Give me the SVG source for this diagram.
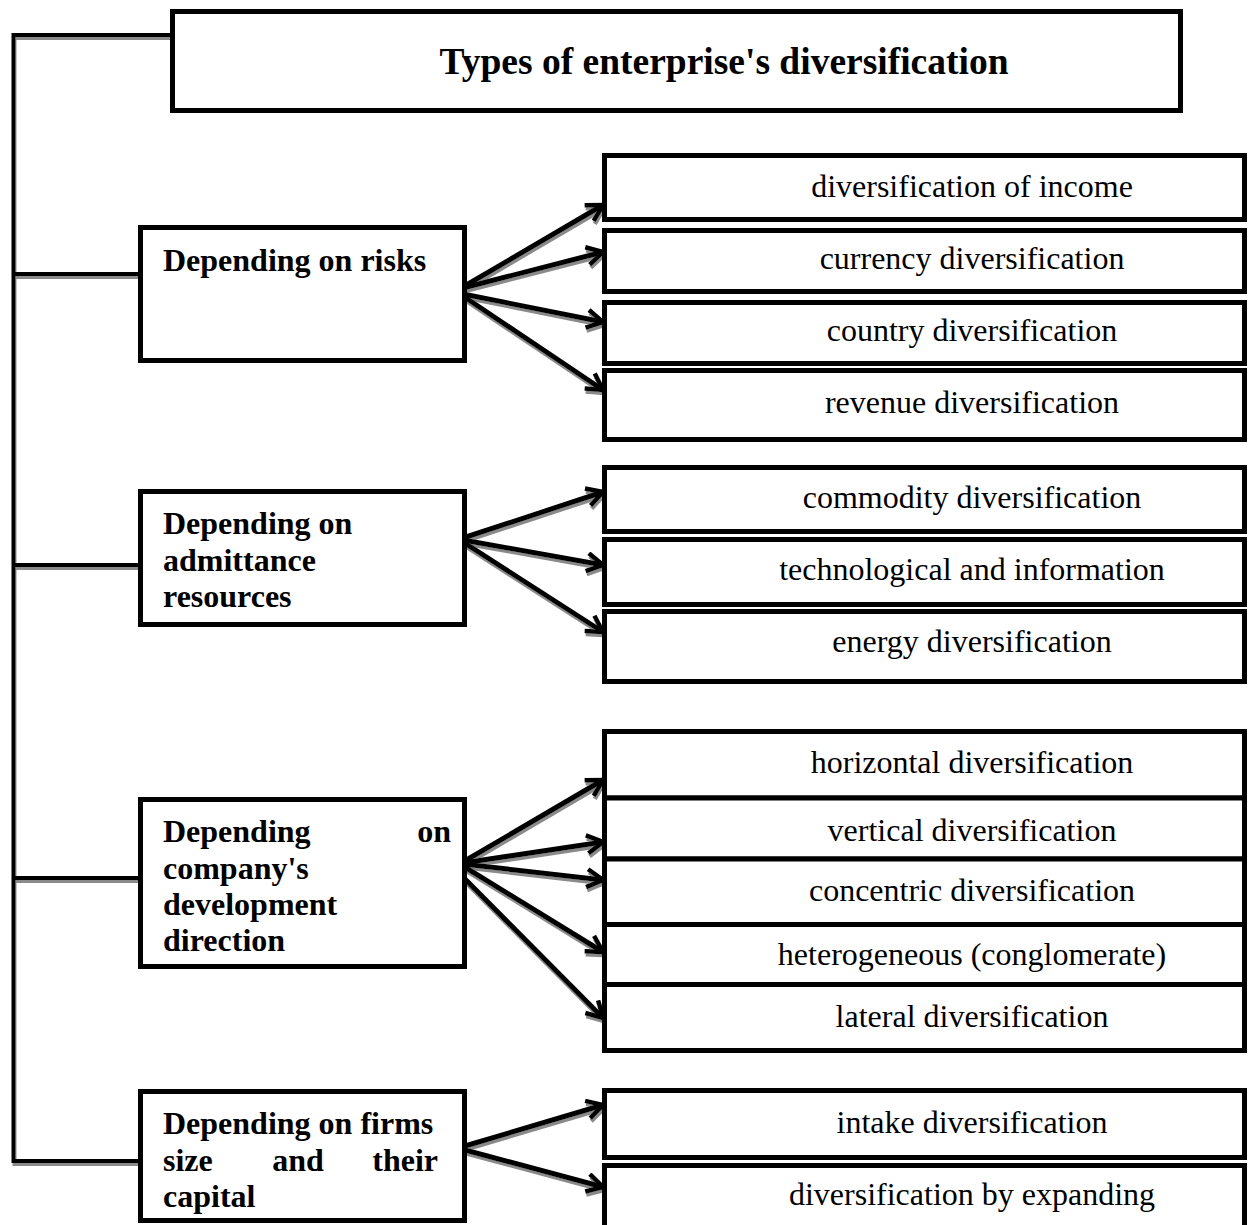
<svg xmlns="http://www.w3.org/2000/svg" width="1251" height="1225" viewBox="0 0 1251 1225">
<style>
.box{fill:#fff;stroke:#000;stroke-width:5}
.t{font-family:"Liberation Serif","Times New Roman",serif;font-size:32px;fill:#000}
.b{font-weight:bold}
.c{text-anchor:middle}
.ln{stroke:#000;stroke-width:4;fill:none}
.ar{stroke:#000;stroke-width:5;fill:none;marker-end:url(#ah)}
</style>
<defs>
<filter id="sh" x="-5%" y="-5%" width="110%" height="110%"><feDropShadow dx="1" dy="3" stdDeviation="0.4" flood-color="#8a8a8a" flood-opacity="1"/></filter>
<marker id="ah" viewBox="0 0 22 22" refX="19" refY="11" markerWidth="22" markerHeight="22" markerUnits="userSpaceOnUse" orient="auto"><path d="M3,2 L19,11 L3,20" fill="none" stroke="#000" stroke-width="4.5" stroke-linejoin="miter"/></marker>
</defs>
<rect width="1251" height="1225" fill="#fff"/>
<g id="connectors" filter="url(#sh)">
<path class="ln" d="M172,35 H13.5 V1161 H140"/>
<path class="ln" d="M13.5,274 H140"/>
<path class="ln" d="M13.5,565 H140"/>
<path class="ln" d="M13.5,878 H140"/>
<path class="ar" d="M463,287 L603,205"/>
<path class="ar" d="M463,288 L603,252"/>
<path class="ar" d="M463,294 L603,322"/>
<path class="ar" d="M463,296 L603,390"/>
<path class="ar" d="M463,538 L603,492"/>
<path class="ar" d="M463,540 L603,565"/>
<path class="ar" d="M463,542 L603,632"/>
<path class="ar" d="M463,862 L603,780"/>
<path class="ar" d="M463,863 L603,842"/>
<path class="ar" d="M463,864 L603,880"/>
<path class="ar" d="M463,866 L603,952"/>
<path class="ar" d="M463,877 L603,1018"/>
<path class="ar" d="M465,1146 L603,1105"/>
<path class="ar" d="M465,1150 L603,1187"/>
</g>
<g id="title"><rect class="box" x="172.5" y="11.5" width="1008" height="99"/><text class="t b c" x="724" y="74" style="font-size:37.5px">Types of enterprise's diversification</text></g>
<g id="risks"><rect class="box" x="140.5" y="227.5" width="324" height="133"/><text class="t b" x="163" y="271">Depending on risks</text></g>
<g id="admittance"><rect class="box" x="140.5" y="491.5" width="324" height="133"/><text class="t b" x="163" y="534">Depending on</text><text class="t b" x="163" y="571">admittance</text><text class="t b" x="163" y="607">resources</text></g>
<g id="development"><rect class="box" x="140.5" y="799.5" width="324" height="167"/><text class="t b" x="163" y="842">Depending</text><text class="t b" x="451" y="842" text-anchor="end">on</text><text class="t b" x="163" y="879">company's</text><text class="t b" x="163" y="915">development</text><text class="t b" x="163" y="951">direction</text></g>
<g id="firms"><rect class="box" x="140.5" y="1091.5" width="324" height="129"/><text class="t b" x="163" y="1134">Depending on firms</text><text class="t b" x="163" y="1171">size</text><text class="t b c" x="298" y="1171">and</text><text class="t b" x="438" y="1171" text-anchor="end">their</text><text class="t b" x="163" y="1207">capital</text></g>
<g id="income"><rect class="box" x="604.5" y="155.5" width="640" height="64"/><text class="t c" x="972" y="197">diversification of income</text></g>
<g id="currency"><rect class="box" x="604.5" y="230.5" width="640" height="61"/><text class="t c" x="972" y="269">currency diversification</text></g>
<g id="country"><rect class="box" x="604.5" y="302.5" width="640" height="61"/><text class="t c" x="972" y="341">country diversification</text></g>
<g id="revenue"><rect class="box" x="604.5" y="370.5" width="640" height="69"/><text class="t c" x="972" y="413">revenue diversification</text></g>
<g id="commodity"><rect class="box" x="604.5" y="467.5" width="640" height="64"/><text class="t c" x="972" y="508">commodity diversification</text></g>
<g id="technological"><rect class="box" x="604.5" y="539.5" width="640" height="65"/><text class="t c" x="972" y="580">technological and information</text></g>
<g id="energy"><rect class="box" x="604.5" y="611.5" width="640" height="70"/><text class="t c" x="972" y="652">energy diversification</text></g>
<g id="horizontal"><rect class="box" x="604.5" y="731.5" width="640" height="66.5"/><text class="t c" x="972" y="773">horizontal diversification</text></g>
<g id="vertical"><rect class="box" x="604.5" y="798" width="640" height="61"/><text class="t c" x="972" y="841">vertical diversification</text></g>
<g id="concentric"><rect class="box" x="604.5" y="859" width="640" height="65.5"/><text class="t c" x="972" y="901">concentric diversification</text></g>
<g id="heterogeneous"><rect class="box" x="604.5" y="924.5" width="640" height="60"/><text class="t c" x="972" y="965">heterogeneous (conglomerate)</text></g>
<g id="lateral"><rect class="box" x="604.5" y="984.5" width="640" height="66"/><text class="t c" x="972" y="1027">lateral diversification</text></g>
<g id="intake"><rect class="box" x="604.5" y="1090.5" width="640" height="67"/><text class="t c" x="972" y="1133">intake diversification</text></g>
<g id="expanding"><rect class="box" x="604.5" y="1165.5" width="640" height="70"/><text class="t c" x="972" y="1205">diversification by expanding</text></g>
</svg>
